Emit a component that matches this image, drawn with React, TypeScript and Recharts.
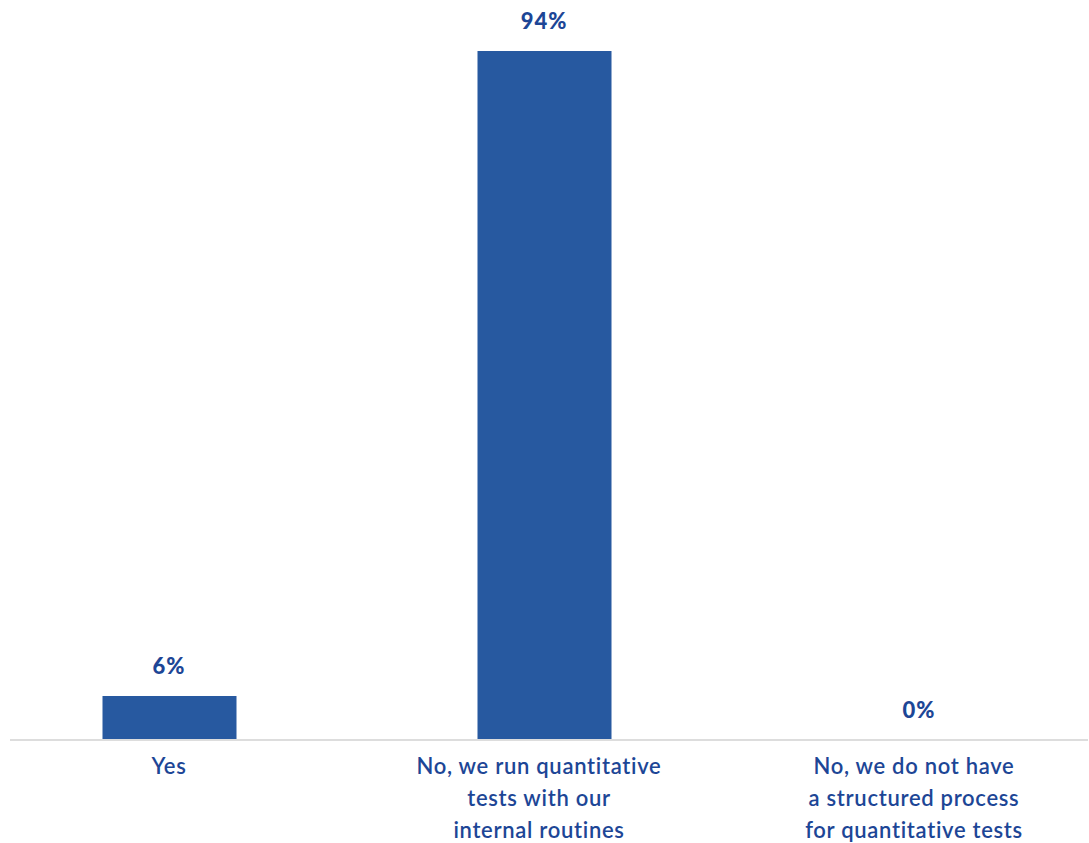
import React from "react";
import { ComposedChart, Bar, Line, XAxis, YAxis, LabelList } from "recharts";

const categories = ["Yes", "No, we run quantitative tests with our internal routines", "No, we do not have a structured process for quantitative tests"];
const tickLines = [
  ["Yes"],
  ["No, we run quantitative", "tests with our", "internal routines"],
  ["No, we do not have", "a structured process", "for quantitative tests"],
];
const values = [6, 94, 0];

const data = categories.map((c, i) => ({ name: c, value: values[i] }));

const TEXT = "#1d4696";
const BAR = "#2759a0";

const Tick = (props: any) => {
  const { x, y, payload } = props;
  const lines = tickLines[payload.index] || [String(payload.value)];
  const dx = lines.length > 1 ? -5 : 0;
  return (
    <g transform={`translate(${x + dx},${y})`}>
      {lines.map((l, i) => (
        <text
          key={i}
          x={0}
          y={26 + i * 32}
          textAnchor="middle"
          fill={TEXT}
          fontFamily="Lato, 'Open Sans', sans-serif"
          fontWeight={600}
          fontSize={22}
          letterSpacing={0.7}
        >
          {l}
        </text>
      ))}
    </g>
  );
};

export default function App() {
  return (
    <div style={{ position: "absolute", left: 0, top: 0, background: "#fff" }}>
      <ComposedChart
        width={1089}
        height={843}
        data={data}
        margin={{ top: 7, right: 1, bottom: 0, left: 10 }}
      >
        <XAxis
          dataKey="name"
          height={103}
          padding={{ left: -28.5, right: -18.5 }}
          axisLine={{ stroke: "#dddddd", strokeWidth: 2 }}
          tickLine={false}
          interval={0}
          tick={<Tick />}
        />
        <YAxis hide domain={[0, 100]} />
        <Bar dataKey="value" fill={BAR} barSize={134} isAnimationActive={false} />
        <Line
          dataKey="value"
          stroke="none"
          dot={false}
          activeDot={false}
          isAnimationActive={false}
        >
          <LabelList
            dataKey="value"
            position="top"
            offset={22}
            formatter={(v: any) => `${v}%`}
            fill={TEXT}
            fontFamily="Lato, 'Open Sans', sans-serif"
            fontWeight={900}
            fontSize={22}
            letterSpacing={1}
          />
        </Line>
      </ComposedChart>
    </div>
  );
}
